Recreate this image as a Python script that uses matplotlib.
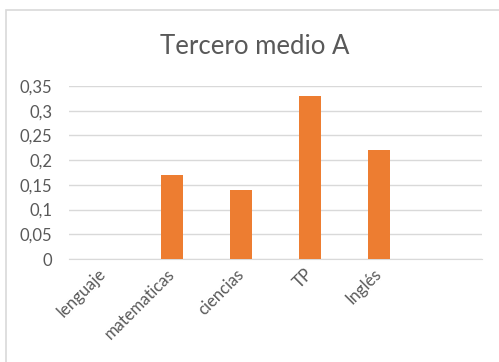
import matplotlib
matplotlib.use("Agg")
import matplotlib.pyplot as plt
from matplotlib.patches import Rectangle
from matplotlib.ticker import FuncFormatter

categories = ["lenguaje", "matematicas", "ciencias", "TP", "Inglés", ""]
values = [0, 0.17, 0.14, 0.33, 0.22, 0]
yticks = [0, 0.05, 0.1, 0.15, 0.2, 0.25, 0.3, 0.35]

text_color = "#595959"
bar_color = "#ED7D31"
grid_color = "#D9D9D9"

plt.rcParams["font.family"] = ["Lato", "DejaVu Sans"]

fig = plt.figure(figsize=(4.99, 3.62), dpi=100)
fig.patch.set_facecolor("white")

# chart frame
fig.patches.append(Rectangle((6 / 499, -0.1), 1.2, (362 - 10) / 362 + 0.1,
                             transform=fig.transFigure, fill=False,
                             edgecolor="#D9D9D9", linewidth=1.2))

ax = fig.add_axes([69 / 499, 1 - 259 / 362, (482 - 69) / 499, (259 - 86) / 362])
x = range(len(categories))
ax.bar(x, values, width=0.32, color=bar_color, zorder=3)

ax.set_xlim(-0.5, len(categories) - 0.5)
ax.set_ylim(0, 0.35)
ax.set_yticks(yticks)
ax.yaxis.set_major_formatter(FuncFormatter(lambda v, p: f"{v:g}".replace(".", ",")))
ax.grid(axis="y", color=grid_color, linewidth=1, zorder=0)
ax.set_xticks(list(x))
ax.set_xticklabels(categories, rotation=45, ha="right", va="center",
                   rotation_mode="anchor")

for s in ["top", "right", "left"]:
    ax.spines[s].set_visible(False)
ax.spines["bottom"].set_color(grid_color)
ax.tick_params(axis="both", length=0, colors=text_color, labelsize=12)
ax.tick_params(axis="y", pad=12)
ax.tick_params(axis="x", pad=9)

fig.text(255 / 499, 1 - 46 / 362, "Tercero medio A", ha="center", va="center",
         fontsize=18.5, color=text_color)

fig.savefig("out.png", dpi=100, facecolor="white")
